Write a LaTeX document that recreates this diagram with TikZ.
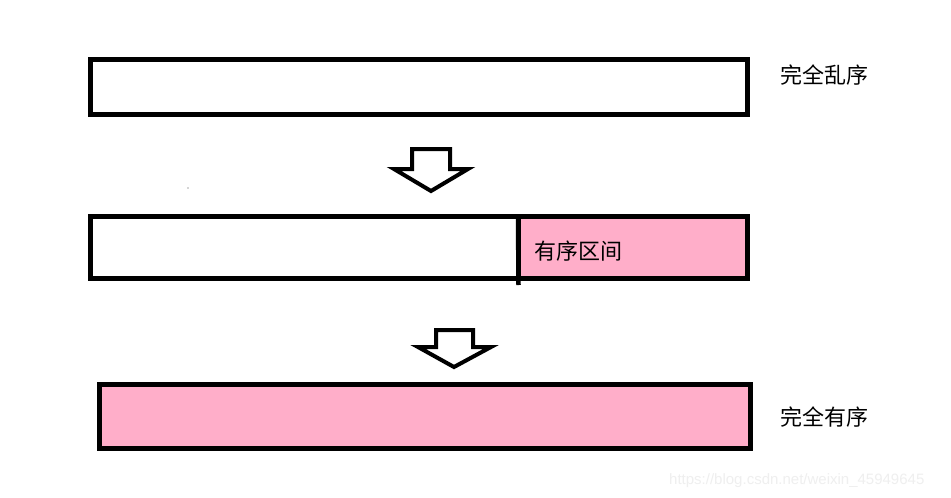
\documentclass[tikz,border=0pt]{standalone}
\usepackage{fontspec}
\newfontfamily\cjk{Noto Sans CJK SC}
\newfontfamily\wmfont{Liberation Sans}
\definecolor{barpink}{HTML}{FFAEC9}
\definecolor{wmgrey}{HTML}{EFEFEF}
\begin{document}
\begin{tikzpicture}[x=1pt,y=-1pt,
  bar/.style={draw=black, line width=5pt, rectangle, inner sep=0pt, outer sep=0pt},
  downarrow/.style={draw=black, line width=4pt, fill=white, line join=miter},
  label/.style={font=\cjk\fontsize{22}{24}\selectfont, inner sep=0pt, anchor=west, text=black}]
\useasboundingbox[fill=white] (0,0) rectangle (951,498);

% bar 1: completely unordered
\node[bar, fill=white, minimum width=656.5pt, minimum height=55pt] (bar1) at (418.75,86.5) {};
\node[label] (t1) at (780,75) {完全乱序};

% arrow 1
\coordinate (a1s) at (412,149);
\draw[downarrow] (a1s) -- (450,149) -- (450,169) -- (468,169) -- (431,191) -- (394,169) -- (412,169) -- cycle;

% stray dot
\fill[black!70] (188,188) circle (0.7);

% bar 2: partially ordered
\node[bar, fill=white, minimum width=427.5pt, minimum height=62.5pt] (bar2l) at (304.25,247.25) {};
\node[bar, fill=barpink, minimum width=229.5pt, minimum height=62.5pt] (bar2r) at (632.75,247.25) {};
\coordinate (divbot) at (518.5,285);
\draw[line width=4.5pt] (bar2r.north west) -- (divbot);
\node[label] (t2) at (534,251) {有序区间};

% arrow 2
\coordinate (a2s) at (436,330);
\draw[downarrow] (a2s) -- (473,330) -- (473,347) -- (491,347) -- (454,367) -- (418,347) -- (436,347) -- cycle;

% bar 3: completely ordered
\node[bar, fill=barpink, minimum width=651pt, minimum height=64pt] (bar3) at (425,416.5) {};
\node[label] (t3) at (780,417) {完全有序};

% watermark
\node[font=\wmfont\fontsize{15}{18}\selectfont, text=wmgrey, inner sep=0pt, anchor=west] (wm) at (669,481) {https://blog.csdn.net/weixin\_45949645};
\end{tikzpicture}
\end{document}
